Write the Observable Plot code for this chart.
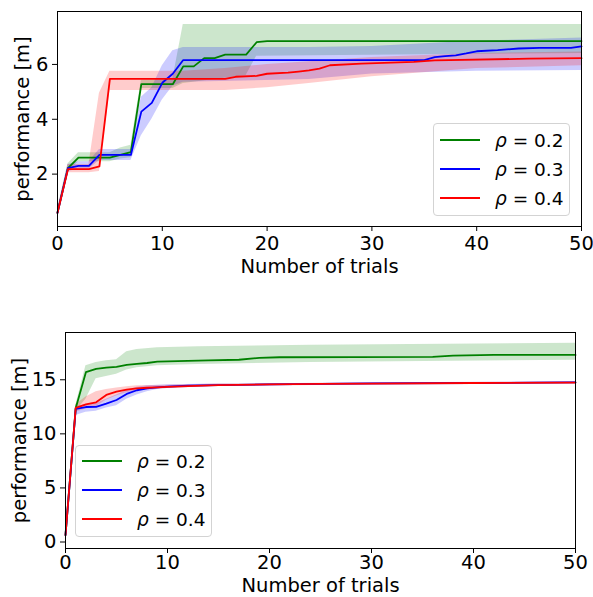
<!DOCTYPE html>
<html><head><meta charset="utf-8">
<script src="https://cdn.jsdelivr.net/npm/d3@7"></script>
<script src="https://cdn.jsdelivr.net/npm/@observablehq/plot@0.6"></script>
<style>
body{margin:0;background:#fff;}
#wrap{position:relative;width:593px;height:597px;font-family:"DejaVu Sans",sans-serif;}
#wrap > svg{display:block;}
.legend{position:absolute;box-sizing:border-box;border:1px solid #d3d3d3;border-radius:4px;background:rgba(255,255,255,0.8);}
.row{position:absolute;left:6px;height:24px;display:flex;align-items:center;font-size:18.5px;white-space:nowrap;color:#000;}
.row svg{display:block;margin-right:15px;}
</style>
</head><body>
<div id="wrap"></div>
<script>
// ---------- series meta ----------
const rhoValues = [0.2, 0.3, 0.4];
const seriesColors = ["#008000", "#0000ff", "#ff0000"];
const xTicks = [0, 10, 20, 30, 40, 50];
const topYTicks = [2, 4, 6];
const bottomYTicks = [0, 5, 10, 15];

// ---------- TOP chart: lines ----------
const topGreenT = [0, 1, 2, 5, 6, 7, 8, 11, 12, 13, 14, 15, 16, 18, 19, 20, 50];
const topGreenV = [0.59, 2.22, 2.6, 2.6, 2.7, 2.8, 5.28, 5.28, 5.93, 5.93, 6.23, 6.23, 6.36, 6.36, 6.81, 6.85, 6.85];
const topBlueT = [0, 1, 2, 3, 4, 7, 8, 9, 10, 11, 12, 35, 36, 37, 38, 39, 40, 42, 44, 46, 49, 50];
const topBlueV = [0.59, 2.22, 2.3, 2.3, 2.7, 2.7, 4.28, 4.6, 5.33, 5.66, 6.16, 6.16, 6.27, 6.3, 6.33, 6.4, 6.48, 6.52, 6.58, 6.6, 6.6, 6.66];
const topRedT = [0, 1, 3, 4, 5, 16, 17, 19, 20, 22, 23, 24, 25, 26, 29, 34, 36, 45, 50];
const topRedV = [0.59, 2.18, 2.18, 2.28, 5.47, 5.47, 5.55, 5.58, 5.66, 5.7, 5.74, 5.78, 5.85, 5.97, 6.03, 6.09, 6.15, 6.21, 6.23];

// ---------- TOP chart: bands ----------
const topGreenBandT  = [0, 1, 2, 5, 6, 7, 8, 11, 12, 18, 19, 50];
const topGreenBandLo = [0.5, 2.08, 2.45, 2.45, 2.55, 2.6, 5.12, 5.12, 5.3, 5.6, 6.3, 6.4];
const topGreenBandHi = [0.7, 2.38, 2.78, 2.78, 2.95, 3.05, 5.42, 5.45, 7.46, 7.46, 7.46, 7.46];
const topBlueBandT  = [0, 1, 2, 3, 4, 7, 8, 9, 10, 11, 12, 24, 30, 40, 50];
const topBlueBandLo = [0.5, 2.1, 2.18, 2.18, 2.5, 2.5, 3.4, 4.0, 4.7, 5.2, 5.35, 5.45, 5.65, 5.75, 5.78];
const topBlueBandHi = [0.7, 2.35, 2.45, 2.45, 2.9, 2.9, 4.8, 5.15, 5.95, 6.5, 6.62, 6.62, 6.65, 6.85, 6.96];
const topRedBandT  = [0, 1, 3, 4, 5, 12, 16, 20, 24, 30, 40, 50];
const topRedBandLo = [0.5, 2.05, 2.05, 2.1, 5.05, 5.05, 5.05, 5.15, 5.3, 5.55, 5.85, 5.95];
const topRedBandHi = [0.7, 2.35, 2.35, 4.95, 5.75, 5.75, 5.85, 6.0, 6.1, 6.25, 6.4, 6.45];

// ---------- BOTTOM chart: lines ----------
const botGreenT = [0, 1, 2, 3, 4, 5, 6, 7, 8, 9, 10, 14, 17, 19, 21, 36, 38, 42, 50];
const botGreenV = [0.63, 12.36, 15.7, 16.0, 16.13, 16.2, 16.37, 16.46, 16.55, 16.68, 16.7, 16.8, 16.85, 17.02, 17.08, 17.11, 17.24, 17.3, 17.3];
const botBlueT = [0, 1, 2, 3, 4, 5, 6, 7, 8, 9, 10, 12, 15, 20, 25, 30, 40, 50];
const botBlueV = [0.63, 12.3, 12.48, 12.5, 12.8, 13.13, 13.69, 14.03, 14.2, 14.3, 14.37, 14.45, 14.5, 14.58, 14.62, 14.66, 14.7, 14.76];
const botRedT = [0, 1, 2, 3, 4, 5, 6, 7, 8, 9, 10, 12, 15, 20, 25, 30, 40, 50];
const botRedV = [0.63, 12.4, 12.73, 12.92, 13.6, 13.9, 14.09, 14.2, 14.26, 14.3, 14.35, 14.42, 14.5, 14.57, 14.62, 14.65, 14.7, 14.74];

// ---------- BOTTOM chart: bands ----------
const botGreenBandT  = [0, 1, 2, 3, 4, 5, 6, 7, 9, 13, 24, 50];
const botGreenBandLo = [0.5, 12.1, 13.2, 15.1, 15.3, 15.5, 15.9, 16.1, 16.3, 16.4, 16.6, 16.8];
const botGreenBandHi = [0.75, 12.6, 16.3, 16.6, 16.75, 16.85, 17.6, 17.8, 17.95, 18.05, 18.2, 18.38];
const botBlueBandT  = [0, 1, 2, 3, 4, 5, 6, 7, 8, 9, 10, 15, 50];
const botBlueBandLo = [0.5, 11.7, 12.0, 12.1, 12.4, 12.6, 13.2, 13.6, 13.9, 14.1, 14.2, 14.4, 14.68];
const botBlueBandHi = [0.75, 12.5, 12.7, 12.8, 13.2, 13.6, 14.0, 14.3, 14.45, 14.5, 14.55, 14.6, 14.84];
const botRedBandT  = [0, 1, 2, 3, 4, 5, 6, 7, 10, 15, 50];
const botRedBandLo = [0.5, 12.0, 12.3, 12.5, 13.1, 13.5, 13.8, 14.0, 14.2, 14.4, 14.66];
const botRedBandHi = [0.75, 12.7, 13.4, 13.9, 14.1, 14.25, 14.35, 14.45, 14.5, 14.6, 14.82];

// ---------- helpers ----------
const lineRows = (T, V) => T.map((t, i) => ({t, v: V[i]}));
const bandRows = (T, L, H) => T.map((t, i) => ({t, lo: L[i], hi: H[i]}));

function chart(cfg) {
  const marks = [];
  cfg.bands.forEach((b, i) => marks.push(Plot.areaY(b, {x: "t", y1: "lo", y2: "hi", fill: seriesColors[i], fillOpacity: 0.2, curve: "linear"})));
  cfg.lines.forEach((l, i) => marks.push(Plot.line(l, {x: "t", y: "v", stroke: seriesColors[i], strokeWidth: 1.8, curve: "linear"})));
  marks.push(Plot.frame({stroke: "#000", strokeWidth: 1}));
  marks.push(Plot.axisX({ticks: xTicks, tickSize: 5, tickPadding: cfg.xPad, label: "Number of trials", labelAnchor: "center", labelArrow: "none", labelOffset: cfg.xLabelOffset}));
  marks.push(Plot.axisY({ticks: cfg.yTicks, tickSize: 5, tickPadding: 4, label: "performance [m]", labelAnchor: "center", labelArrow: "none", labelOffset: cfg.yLabelOffset}));
  return Plot.plot({
    width: 593, height: cfg.height,
    marginLeft: cfg.ml, marginRight: cfg.mr, marginTop: cfg.mt, marginBottom: cfg.mb,
    style: {fontFamily: "'DejaVu Sans', sans-serif", fontSize: "19.5px", color: "#000", background: "#fff", overflow: "visible"},
    x: {domain: [0, 50]},
    y: {domain: cfg.yDomain},
    marks
  });
}

const wrap = document.getElementById("wrap");
wrap.appendChild(chart({
  height: 296, ml: 57, mr: 12, mt: 11, mb: 70, xPad: 5,
  yDomain: [0.09, 7.93], yTicks: topYTicks, xLabelOffset: 46, yLabelOffset: 42,
  lines: [lineRows(topGreenT, topGreenV), lineRows(topBlueT, topBlueV), lineRows(topRedT, topRedV)],
  bands: [bandRows(topGreenBandT, topGreenBandLo, topGreenBandHi), bandRows(topBlueBandT, topBlueBandLo, topBlueBandHi), bandRows(topRedBandT, topRedBandLo, topRedBandHi)]
}));
wrap.appendChild(chart({
  height: 301, ml: 65, mr: 18, mt: 36, mb: 49, xPad: 2,
  yDomain: [-0.6, 19.37], yTicks: bottomYTicks, xLabelOffset: 43, yLabelOffset: 53,
  lines: [lineRows(botGreenT, botGreenV), lineRows(botBlueT, botBlueV), lineRows(botRedT, botRedV)],
  bands: [bandRows(botGreenBandT, botGreenBandLo, botGreenBandHi), bandRows(botBlueBandT, botBlueBandLo, botBlueBandHi), bandRows(botRedBandT, botRedBandLo, botRedBandHi)]
}));

function legend(left, top, w, h, rowCenters) {
  const box = document.createElement("div");
  box.className = "legend";
  Object.assign(box.style, {left: left + "px", top: top + "px", width: w + "px", height: h + "px"});
  rhoValues.forEach((r, i) => {
    const row = document.createElement("div");
    row.className = "row";
    row.style.top = (rowCenters[i] - 12) + "px";
    row.innerHTML = `<svg width="40" height="4"><line x1="0" y1="2" x2="40" y2="2" stroke="${seriesColors[i]}" stroke-width="1.8"/></svg><span><i>ρ</i> = ${r}</span>`;
    box.appendChild(row);
  });
  wrap.appendChild(box);
}
legend(433, 123, 137, 93, [16, 45, 74]);
legend(75, 445, 137, 92, [15, 44, 73]);
</script>
</body></html>
